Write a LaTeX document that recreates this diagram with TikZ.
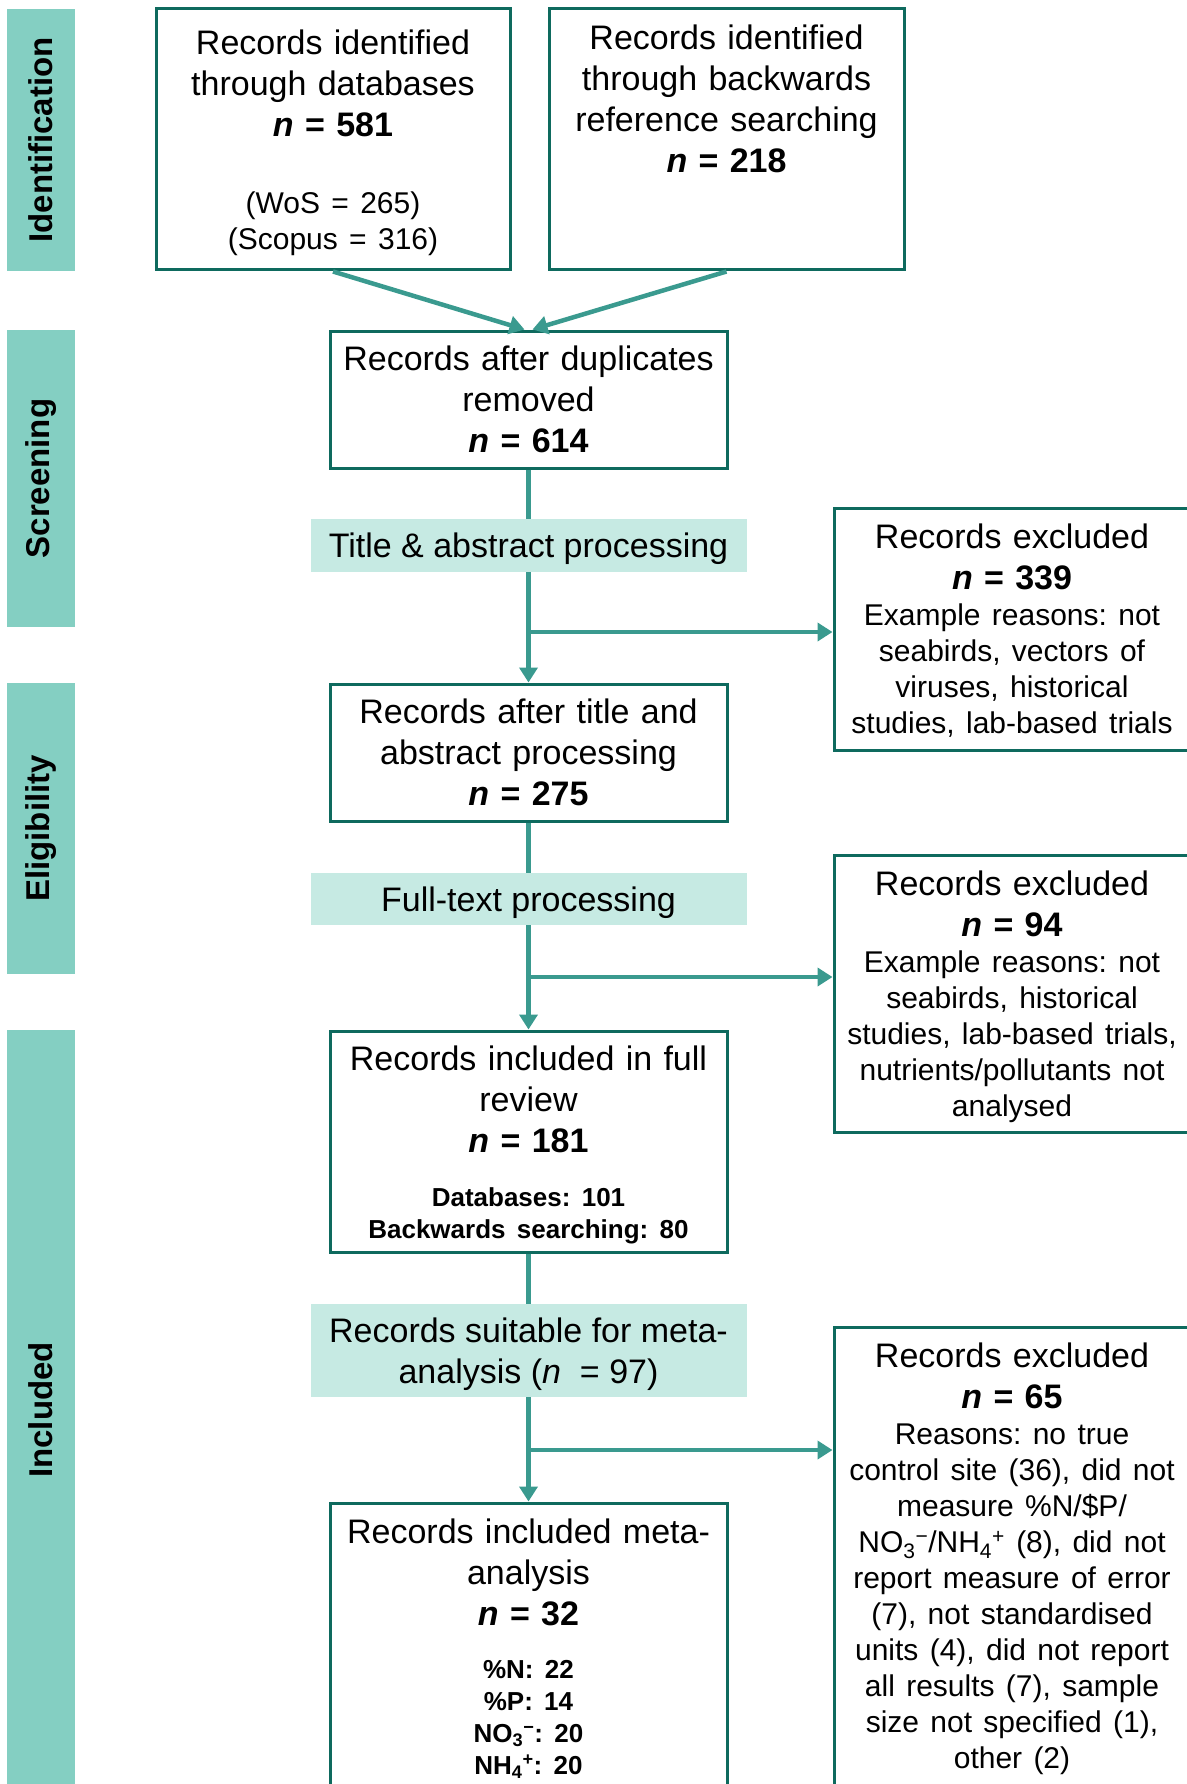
\documentclass[tikz,border=0pt]{standalone}
\usepackage{fontspec}
\setmainfont{Liberation Sans}
\usepackage{xcolor}
\usepackage{tikz}
\usetikzlibrary{arrows.meta}
\frenchspacing

\definecolor{boxline}{HTML}{0E6A5E}
\definecolor{flowline}{HTML}{3A9A8F}
\definecolor{phasefill}{HTML}{84CFC2}
\definecolor{stagefill}{HTML}{C6EAE3}

\newcommand{\bigtxt}{\fontsize{34}{41}\selectfont}
\newcommand{\midtxt}{\fontsize{30}{36}\selectfont}
\newcommand{\smalltxt}{\bfseries\fontsize{26}{32}\selectfont}
\newcommand{\nval}[1]{\textbf{\textit{n} = #1}}
\newcommand{\highstrut}{\rule{0pt}{31pt}}
\newcommand{\lowstrut}{\rule[-7pt]{0pt}{0pt}}
\newcommand{\bottompad}[1]{\par\vspace{#1}\hrule height 0pt}

\tikzset{
  phase/.style={fill=phasefill, rotate=90, minimum height=68pt, inner sep=0pt,
    font=\bfseries\fontsize{33}{40}\selectfont}, % side bars
  record/.style={draw=boxline, line width=3pt, fill=white, align=center,
    inner sep=0pt, font=\bigtxt},
  stage/.style={fill=stagefill, align=center, inner sep=0pt, text depth=0pt,
    minimum width=436pt, font=\bigtxt},
  link/.style={draw=flowline, line width=4.5pt}, % a plain connector
  flow/.style={link, -{Triangle[length=15pt, width=18pt]}}
}

\begin{document}
\begin{tikzpicture}[x=1pt, y=-1pt]
  \useasboundingbox (0,0) rectangle (1186,1784);

  % Phases
  \node[phase, minimum width=262pt] (ident) at (41,140) {Identification};
  \node[phase, minimum width=297pt] (screen) at (41,478.5) {Screening};
  \node[phase, minimum width=291pt] (elig) at (41,828.5) {Eligibility};
  \node[phase, minimum width=760pt] (incl) at (41,1410) {Included};

  % Records
  \node[record, minimum width=354pt, minimum height=261pt, text width=340pt] (dbrec) at (333,139.5)
    {\highstrut Records identified\\ through databases\\ \nval{581}\par\vspace{41pt}
     {\midtxt (WoS = 265)\\ (Scopus = 316)\par}};
  \node[record, minimum width=355pt, minimum height=261pt, text width=340pt] (bwrec) at (726.5,139.5)
    {\highstrut Records identified\\ through backwards\\ reference searching\\ \nval{218}\bottompad{87pt}};
  \node[record, minimum width=397pt, minimum height=137pt, text width=385pt] (dup) at (528.5,399.5)
    {\highstrut Records after duplicates\\ removed\\ \nval{614}\lowstrut};
  \node[record, minimum width=397pt, minimum height=137pt, text width=385pt] (afterta) at (528.5,752.5)
    {\highstrut Records after title and\\ abstract processing\\ \nval{275}\lowstrut};
  \node[record, minimum width=397pt, minimum height=221pt, text width=385pt] (fullrev) at (528.5,1141.5)
    {\highstrut Records included in full\\ review\\ \nval{181}\par\vspace{22pt}
     {\smalltxt Databases: 101\\ Backwards searching: 80\par}};
  \node[record, minimum width=397pt, minimum height=300pt, text width=385pt] (meta) at (528.5,1653)
    {\highstrut Records included meta-\\ analysis\\ \nval{32}\par\vspace{21pt}
     {\smalltxt \%N: 22\\ \%P: 14\\ NO\textsubscript{3}\textsuperscript{−}: 20\\
      NH\textsubscript{4}\textsuperscript{+}: 20\par}\bottompad{15pt}};

  % Processing steps
  \node[stage, minimum height=53pt] (taproc) at (528.5,545.5) {Title \& abstract processing};
  \node[stage, minimum height=52pt] (ftproc) at (528.5,899) {Full-text processing};
  \node[stage, minimum height=93pt] (metasuit) at (528.5,1350.5)
    {Records suitable for meta-\\ analysis (\textit{n}~ = 97)};

  % Exclusions
  \node[record, minimum width=356pt, minimum height=242pt, text width=345pt] (excl1) at (1012,629)
    {\highstrut Records excluded\\ \nval{339}\par
     {\midtxt Example reasons: not\\ seabirds, vectors of\\ viruses, historical\\
      studies, lab-based trials\lowstrut\par}};
  \node[record, minimum width=356pt, minimum height=277pt, text width=345pt] (excl2) at (1012,993.5)
    {\highstrut Records excluded\\ \nval{94}\par
     {\midtxt Example reasons: not\\ seabirds, historical\\ studies, lab-based trials,\\
      nutrients/pollutants not\\ analysed\par}};
  \node[record, minimum width=356pt, minimum height=469pt, text width=345pt] (excl3) at (1012,1561.5)
    {\highstrut Records excluded\\ \nval{65}\par
     {\midtxt Reasons: no true\\ control site (36), did not\\ measure \%N/\$P/\\
      NO\textsubscript{3}\textsuperscript{−}/NH\textsubscript{4}\textsuperscript{+} (8), did not\\
      report measure of error\\ (7), not standardised\\ units (4), did not report\\
      all results (7), sample\\ size not specified (1),\\ other (2)\par}\bottompad{12pt}};

  % Connect
  \draw[flow] (dbrec.south) -- ([xshift=-4pt]dup.north);
  \draw[flow] (bwrec.south) -- ([xshift=4pt]dup.north);
  \draw[link] (dup.south) -- (taproc.north);
  \draw[flow] (taproc.south) -- (afterta.north);
  \draw[link] (afterta.south) -- (ftproc.north);
  \draw[flow] (ftproc.south) -- (fullrev.north);
  \draw[link] (fullrev.south) -- (metasuit.north);
  \draw[flow] (metasuit.south) -- (meta.north);

  \coordinate (br1) at (528.5,632);
  \coordinate (br2) at (528.5,977);
  \coordinate (br3) at (528.5,1450);
  \draw[flow] (br1) -- (br1 -| excl1.west);
  \draw[flow] (br2) -- (br2 -| excl2.west);
  \draw[flow] (br3) -- (br3 -| excl3.west);
\end{tikzpicture}
\end{document}
